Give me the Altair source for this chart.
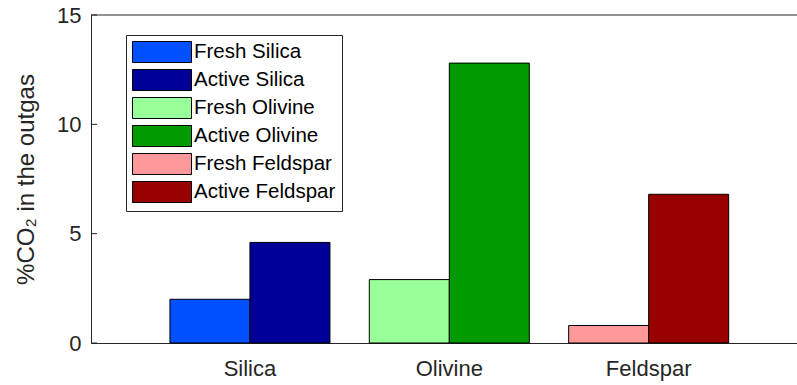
import altair as alt
import pandas as pd

# CO2 share of the outgas for each mineral, fresh vs. active sample
minerals = ["Silica", "Olivine", "Feldspar"]
states = ["Fresh", "Active"]
fresh_values = [2.0, 2.9, 0.8]
active_values = [4.6, 12.8, 6.8]

series_names = [
    "Fresh Silica", "Active Silica",
    "Fresh Olivine", "Active Olivine",
    "Fresh Feldspar", "Active Feldspar",
]
series_colors = [
    "#0050ff", "#000099",
    "#99ff99", "#009900",
    "#ff9999", "#990000",
]

y_ticks = [0, 5, 10, 15]

rows = []
for m, f, a in zip(minerals, fresh_values, active_values):
    rows.append({"mineral": m, "state": "Fresh", "series": f"Fresh {m}", "value": f})
    rows.append({"mineral": m, "state": "Active", "series": f"Active {m}", "value": a})
df = pd.DataFrame(rows)
tick_df = pd.DataFrame({"v": y_ticks})

W, H = 706, 328
FONT = "Liberation Sans"
AX = "#262626"

y_scale = alt.Scale(domain=[0, 15], nice=False, zero=True)

bars = alt.Chart(df).mark_bar(stroke="black", strokeWidth=1, opacity=1).encode(
    x=alt.X(
        "mineral:N",
        sort=minerals,
        scale=alt.Scale(paddingInner=0.1974, paddingOuter=0.3694, align=0.536),
        axis=alt.Axis(
            title=None, labelAngle=0, ticks=False, labelPadding=15,
            labelFont=FONT, labelFontSize=22, labelColor=AX,
            domainColor=AX, domainWidth=1,
        ),
    ),
    xOffset=alt.XOffset(
        "state:N", sort=states,
        scale=alt.Scale(paddingInner=0, paddingOuter=0),
    ),
    y=alt.Y(
        "value:Q",
        scale=y_scale,
        axis=alt.Axis(
            title="%CO₂ in the outgas", values=y_ticks, grid=False, ticks=False,
            labelPadding=10, labelFont=FONT, labelFontSize=22, labelColor=AX,
            titleFont=FONT, titleFontSize=24, titleFontWeight="normal",
            titleColor=AX, titlePadding=18,
            domainColor=AX, domainWidth=1,
        ),
    ),
    color=alt.Color(
        "series:N",
        scale=alt.Scale(domain=series_names, range=series_colors),
        sort=series_names,
        legend=alt.Legend(
            title=None, orient="none", legendX=35, legendY=20,
            symbolType="M-2.81,-1L2.81,-1L2.81,1L-2.81,1Z",
            symbolSize=441, symbolOffset=19,
            symbolStrokeColor="black", symbolStrokeWidth=1, symbolOpacity=1,
            labelFont=FONT, labelFontSize=20.5, labelColor="#000000",
            labelOffset=21, labelLimit=0, rowPadding=2,
            padding=6, strokeColor=AX, fillColor="white",
        ),
    ),
)

# inward tick marks on the y axis
yticks = alt.Chart(tick_df).mark_rule(color=AX, strokeWidth=1).encode(
    y=alt.Y("v:Q", scale=y_scale),
    x=alt.value(0),
    x2=alt.value(6),
)

# upper frame line of the axes box
top_line = alt.Chart(pd.DataFrame({"k": [0]})).mark_rule(color=AX, strokeWidth=1).encode(
    x=alt.value(0),
    x2=alt.value(W),
    y=alt.value(0),
)

chart = (
    alt.layer(bars, yticks, top_line)
    .properties(
        width=W,
        height=H,
        autosize=alt.AutoSizeParams(type="none"),
        padding={"left": 91, "top": 15, "right": 0, "bottom": 42},
        background="white",
    )
    .configure_view(stroke=None)
)

chart.save("out.html", embed_options={"renderer": "svg", "actions": False})
